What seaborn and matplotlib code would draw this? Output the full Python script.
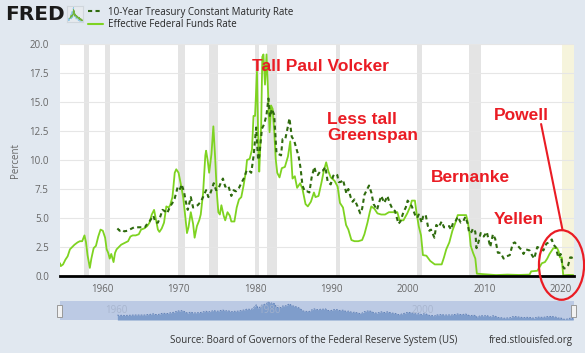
import matplotlib
matplotlib.use("Agg")
import matplotlib.pyplot as plt
from matplotlib.lines import Line2D
from matplotlib.patches import Ellipse, Rectangle
import seaborn as sns
import pandas as pd
import numpy as np

# Effective Federal Funds Rate (decimal year, percent)
ff_year = [1954.5, 1954.6, 1954.9, 1955.2, 1955.5, 1955.8, 1956.1, 1956.4, 1956.8, 1957.1,
           1957.4, 1957.7, 1957.9, 1958.1, 1958.4, 1958.6, 1958.9, 1959.2, 1959.5, 1959.8,
           1960.1, 1960.4, 1960.6, 1960.8, 1961.0, 1961.2, 1961.5, 1961.7, 1961.9, 1962.2,
           1962.5, 1962.8, 1963.1, 1963.4, 1963.7, 1964.0, 1964.4, 1964.8, 1965.1, 1965.5,
           1965.9, 1966.2, 1966.5, 1966.8, 1967.0, 1967.3, 1967.5, 1967.8, 1968.1, 1968.4,
           1968.7, 1968.9, 1969.2, 1969.5, 1969.7, 1970.0, 1970.3, 1970.6, 1970.9, 1971.1,
           1971.3, 1971.6, 1971.9, 1972.1, 1972.4, 1972.7, 1972.9, 1973.2, 1973.5, 1973.6,
           1973.8, 1974.0, 1974.3, 1974.55, 1974.8, 1975.0, 1975.2, 1975.4, 1975.6, 1975.9,
           1976.1, 1976.4, 1976.7, 1976.9, 1977.3, 1977.6, 1977.9, 1978.2, 1978.5, 1978.8,
           1978.95, 1979.3, 1979.6, 1979.8, 1980.0, 1980.25, 1980.45, 1980.55, 1980.8, 1980.95,
           1981.1, 1981.3, 1981.5, 1981.7, 1981.9, 1982.1, 1982.3, 1982.5, 1982.7, 1982.9,
           1983.2, 1983.5, 1983.9, 1984.3, 1984.6, 1984.9, 1985.2, 1985.5, 1985.9, 1986.2,
           1986.6, 1986.9, 1987.3, 1987.7, 1987.9, 1988.3, 1988.7, 1989.0, 1989.3, 1989.6,
           1989.9, 1990.4, 1990.8, 1991.1, 1991.5, 1991.9, 1992.2, 1992.6, 1993.0, 1993.5,
           1994.0, 1994.3, 1994.7, 1995.0, 1995.2, 1995.6, 1996.0, 1996.5, 1997.0, 1997.5,
           1998.0, 1998.6, 1998.9, 1999.4, 1999.9, 2000.3, 2000.5, 2000.9, 2001.1, 2001.4,
           2001.7, 2001.95, 2002.4, 2002.9, 2003.5, 2004.4, 2004.7, 2005.0, 2005.4, 2005.8,
           2006.2, 2006.5, 2007.0, 2007.6, 2007.8, 2008.0, 2008.2, 2008.5, 2008.8, 2009.0,
           2010.0, 2011.5, 2013.0, 2014.5, 2015.9, 2016.1, 2016.9, 2017.1, 2017.5, 2017.9,
           2018.2, 2018.5, 2018.8, 2019.0, 2019.5, 2019.7, 2019.85, 2020.1, 2020.2, 2020.3,
           2021.0, 2021.6]
ff_rate = [1.1, 0.85, 1.0, 1.4, 1.7, 2.3, 2.5, 2.7, 2.9, 3.0,
           3.0, 3.5, 2.9, 1.8, 0.7, 1.5, 2.4, 2.6, 3.4, 4.0,
           3.9, 3.3, 2.3, 2.0, 1.5, 1.9, 1.2, 2.0, 2.3, 2.5,
           2.7, 2.8, 2.9, 3.0, 3.4, 3.5, 3.5, 3.6, 4.0, 4.1,
           4.3, 4.6, 5.3, 5.7, 5.0, 4.0, 3.8, 4.1, 4.6, 6.0,
           5.9, 6.1, 6.8, 8.9, 9.2, 8.9, 7.9, 6.8, 5.0, 3.7,
           4.2, 5.5, 4.5, 3.3, 4.3, 4.8, 5.3, 7.1, 10.4, 10.8,
           10.0, 8.9, 10.5, 12.9, 10.0, 7.2, 5.5, 5.3, 6.1, 5.2,
           4.8, 5.5, 5.2, 4.7, 4.7, 5.9, 6.6, 6.8, 7.8, 9.0,
           10.0, 10.1, 10.9, 13.8, 13.8, 17.6, 10.5, 9.0, 13.0, 18.9,
           19.1, 16.5, 19.1, 15.9, 12.4, 14.7, 14.4, 12.6, 10.1, 8.9,
           8.5, 9.3, 9.4, 10.3, 11.6, 8.4, 8.6, 7.6, 8.0, 7.5,
           6.2, 6.0, 6.4, 7.2, 6.8, 6.9, 8.1, 9.1, 9.8, 9.0,
           8.5, 8.2, 7.7, 6.3, 5.9, 4.4, 4.0, 3.1, 3.0, 3.0,
           3.1, 3.6, 4.6, 5.5, 6.0, 5.8, 5.4, 5.3, 5.3, 5.5,
           5.5, 5.5, 4.8, 4.8, 5.4, 6.0, 6.5, 6.5, 5.5, 4.3,
           3.5, 1.8, 1.75, 1.3, 1.0, 1.0, 1.6, 2.3, 2.9, 3.9,
           4.6, 5.25, 5.25, 5.25, 4.7, 3.9, 2.6, 2.0, 1.5, 0.2,
           0.15, 0.08, 0.12, 0.09, 0.12, 0.4, 0.45, 0.66, 1.1, 1.2,
           1.5, 1.9, 2.2, 2.4, 2.4, 2.1, 1.6, 1.6, 0.7, 0.05,
           0.09, 0.08]

# 10-Year Treasury Constant Maturity Rate
t10_year = [1962.0, 1962.3, 1962.6, 1962.9, 1963.3, 1963.6, 1963.9, 1964.2, 1964.6, 1964.9,
            1965.3, 1965.6, 1965.9, 1966.2, 1966.7, 1967.0, 1967.3, 1967.6, 1967.9, 1968.2,
            1968.5, 1968.9, 1969.2, 1969.5, 1969.9, 1970.2, 1970.4, 1970.7, 1970.95, 1971.2,
            1971.6, 1971.9, 1972.2, 1972.5, 1972.9, 1973.2, 1973.6, 1973.9, 1974.2, 1974.6,
            1974.9, 1975.2, 1975.5, 1975.8, 1976.1, 1976.5, 1976.9, 1977.2, 1977.5, 1977.9,
            1978.2, 1978.6, 1978.9, 1979.2, 1979.5, 1979.8, 1980.15, 1980.4, 1980.55, 1980.9,
            1981.2, 1981.5, 1981.75, 1981.95, 1982.2, 1982.5, 1982.8, 1983.1, 1983.4, 1983.6,
            1983.95, 1984.3, 1984.5, 1984.8, 1985.1, 1985.4, 1985.7, 1985.95, 1986.2, 1986.5,
            1986.8, 1987.1, 1987.4, 1987.75, 1987.95, 1988.2, 1988.6, 1988.9, 1989.2, 1989.5,
            1989.9, 1990.2, 1990.4, 1990.75, 1990.95, 1991.2, 1991.5, 1991.95, 1992.2, 1992.5,
            1992.75, 1993.0, 1993.4, 1993.75, 1994.0, 1994.3, 1994.6, 1994.9, 1995.2, 1995.5,
            1995.95, 1996.2, 1996.5, 1996.9, 1997.3, 1997.6, 1997.95, 1998.3, 1998.75, 1999.0,
            1999.4, 1999.7, 1999.95, 2000.2, 2000.5, 2000.9, 2001.2, 2001.4, 2001.8, 2001.95,
            2002.3, 2002.6, 2002.8, 2003.0, 2003.45, 2003.7, 2004.0, 2004.4, 2004.7, 2004.95,
            2005.4, 2005.6, 2005.9, 2006.2, 2006.5, 2006.9, 2007.2, 2007.5, 2007.8, 2008.0,
            2008.3, 2008.5, 2008.8, 2008.95, 2009.2, 2009.5, 2009.9, 2010.3, 2010.75, 2011.1,
            2011.4, 2011.75, 2012.1, 2012.5, 2012.9, 2013.3, 2013.7, 2013.95, 2014.5, 2014.9,
            2015.1, 2015.4, 2015.9, 2016.2, 2016.5, 2016.9, 2017.2, 2017.7, 2018.1, 2018.5,
            2018.8, 2019.0, 2019.3, 2019.65, 2019.95, 2020.2, 2020.4, 2020.7, 2020.95, 2021.2,
            2021.4, 2021.6]
t10_rate = [4.1, 3.9, 4.0, 3.85, 3.9, 4.0, 4.1, 4.2, 4.2, 4.2,
            4.2, 4.2, 4.5, 4.7, 5.2, 4.6, 4.6, 5.1, 5.7, 5.6,
            5.4, 6.0, 6.3, 6.7, 7.7, 7.5, 7.9, 7.3, 6.4, 5.7,
            6.8, 5.9, 6.0, 6.1, 6.4, 6.8, 7.4, 6.8, 7.2, 8.0,
            7.4, 7.5, 8.0, 8.4, 7.7, 7.8, 6.9, 7.4, 7.3, 7.6,
            8.0, 8.5, 9.1, 9.1, 8.9, 10.3, 12.8, 10.0, 10.3, 12.7,
            13.1, 13.9, 15.3, 13.7, 14.4, 13.9, 10.6, 10.5, 10.4, 11.8,
            11.8, 12.9, 13.6, 12.0, 11.7, 11.0, 10.3, 9.3, 7.8, 7.3,
            7.3, 7.2, 8.5, 9.4, 8.9, 8.7, 9.1, 9.1, 9.4, 8.1,
            7.9, 8.6, 8.8, 8.7, 8.1, 8.1, 8.3, 7.1, 7.5, 6.8,
            6.4, 6.6, 6.0, 5.4, 5.8, 7.0, 7.4, 7.8, 7.2, 6.2,
            5.7, 6.3, 6.9, 6.3, 6.9, 6.3, 5.8, 5.6, 4.5, 4.7,
            5.5, 5.9, 6.5, 6.3, 6.0, 5.3, 5.0, 5.3, 4.6, 5.1,
            5.3, 4.3, 3.9, 4.0, 3.3, 4.4, 4.2, 4.7, 4.2, 4.2,
            4.3, 4.0, 4.6, 4.7, 5.1, 4.6, 4.7, 5.1, 4.5, 3.7,
            3.8, 4.1, 3.8, 2.4, 2.9, 3.7, 3.4, 3.8, 2.5, 3.6,
            3.2, 2.0, 2.0, 1.5, 1.7, 1.8, 2.8, 2.9, 2.5, 2.2,
            1.9, 2.3, 2.2, 1.8, 1.5, 2.5, 2.4, 2.2, 2.8, 2.9,
            3.15, 2.7, 2.5, 1.6, 1.9, 0.9, 0.65, 0.7, 0.95, 1.6,
            1.6, 1.3]

# NBER recessions (start, end)
rec_start = [1957.67, 1960.33, 1969.92, 1973.92, 1980.0, 1981.5, 1990.58, 2001.17, 2007.92]
rec_end = [1958.33, 1961.08, 1970.83, 1975.17, 1980.5, 1982.92, 1991.17, 2001.83, 2009.5]

legend_labels = ["10-Year Treasury Constant Maturity Rate", "Effective Federal Funds Rate"]
y_ticks = [0, 2.5, 5, 7.5, 10, 12.5, 15, 17.5, 20]
x_ticks = [1960, 1970, 1980, 1990, 2000, 2010, 2020]
nav_ticks = [1960, 1980, 2000]

ff = pd.DataFrame({"year": ff_year, "rate": ff_rate})
t10 = pd.DataFrame({"year": t10_year, "rate": t10_rate})

sns.set_style("white")
plt.rcParams["font.family"] = ["Open Sans", "DejaVu Sans"]

bg = "#e1e8f0"
light_green = "#7ed321"
dark_green = "#2f6b0e"
red = "#ea1c24"
dash = (0, (2.0, 1.6))
xmin, xmax = 1954.5, 2021.7

fig = plt.figure(figsize=(5.85, 3.53), dpi=100, facecolor=bg)
W, H = 585, 353

def fbox(x0, y0, x1, y1):
    return [x0 / W, 1 - y1 / H, (x1 - x0) / W, (y1 - y0) / H]

ax = fig.add_axes(fbox(60, 44, 574, 276))
ax.set_facecolor("white")

for s, e in zip(rec_start, rec_end):
    ax.axvspan(s, e, color="#e4e4e4", lw=0, zorder=0)
ax.axvspan(2020.15, xmax, color="#f6f4dc", lw=0, zorder=0)

for yv in y_ticks[1:]:
    ax.axhline(yv, color="#e6e6e6", lw=0.8, zorder=0.5)

sns.lineplot(data=ff, x="year", y="rate", ax=ax, color=light_green, lw=1.3, zorder=2)
sns.lineplot(data=t10, x="year", y="rate", ax=ax, color=dark_green, lw=1.5,
             linestyle=dash, zorder=3)

ax.set_xlim(xmin, xmax)
ax.set_ylim(0, 20)
ax.set_yticks(y_ticks)
ax.set_yticklabels([f"{v:.1f}" for v in y_ticks])
ax.set_xticks(x_ticks)
ax.set_xticklabels([str(v) for v in x_ticks])
ax.tick_params(axis="y", length=0, labelsize=7, labelcolor="#666666", pad=8)
ax.tick_params(axis="x", length=4, color="#ccd6eb", labelsize=7, labelcolor="#666666", pad=2)
ax.set_xlabel("")
ax.set_ylabel("Percent", fontsize=7, color="#666666", labelpad=6)
for side in ["top", "right", "left"]:
    ax.spines[side].set_visible(False)
ax.spines["bottom"].set_color("black")
ax.spines["bottom"].set_linewidth(2)
ax.spines["bottom"].set_zorder(5)

# annotations
tkw = dict(color=red, fontsize=12.5, fontweight="bold",
           family=["Liberation Sans", "DejaVu Sans"])
ax.text(1988.5, 18.1, "Tall Paul Volcker", ha="center", va="center", **tkw)
ax.text(1989.4, 12.8, "Less tall\nGreenspan", ha="left", va="center", linespacing=1.05, **tkw)
ax.text(2003.0, 8.5, "Bernanke", ha="left", va="center", **tkw)
ax.text(2011.2, 4.9, "Yellen", ha="left", va="center", **tkw)
ax.text(2011.2, 13.8, "Powell", ha="left", va="center", **tkw)
ax.plot([2017.4, 2020.2], [13.1, 3.97], color=red, lw=1.5, zorder=6)
ax.add_patch(Ellipse((2020.07, 0.95), 5.9, 6.0, fill=False, ec=red, lw=1.6,
                     clip_on=False, zorder=6))

# navigator
nav = fig.add_axes(fbox(60, 301, 574, 320))
nav.set_facecolor("#bccae4")
nav.fill_between(t10["year"], t10["rate"], color="#7f9dcb", lw=0, zorder=1)
nav.plot(t10["year"], t10["rate"], color="#5577b0", lw=0.6, linestyle=(0, (2, 1.5)), zorder=2)
nav.set_xlim(xmin, xmax)
nav.set_ylim(0, 16)
nav.set_xticks([])
nav.set_yticks([])
for sp in nav.spines.values():
    sp.set_visible(False)
for t in nav_ticks:
    nav.text(t + 0.4, 8, str(t), fontsize=7, color="#a6b3cc", va="center", ha="left",
             alpha=0.9, zorder=3)
for hx in (57, 571):
    fig.patches.append(Rectangle((hx / W, 1 - 317 / H), 5 / W, 12 / H, transform=fig.transFigure,
                                 fc="#f2f2f2", ec="#999999", lw=0.7))

# header
fig.text(5 / W, 1 - 15 / H, "FRED", fontsize=14.5, fontweight="heavy", color="#1a1a1a",
         va="center", ha="left", family=["DejaVu Sans"])
icon = fig.add_axes(fbox(67, 6, 83, 22))
icon.set_facecolor("#e6eaee")
icon.set_xticks([])
icon.set_yticks([])
for sp in icon.spines.values():
    sp.set_color("#d0d6dc")
icon.plot(ff["year"], ff["rate"], color="#8fc7e8", lw=0.6)
icon.plot(t10["year"], t10["rate"], color="#74b33c", lw=0.6)

handles = [Line2D([], [], color=dark_green, lw=1.5, linestyle=dash),
           Line2D([], [], color=light_green, lw=1.5)]
fig.legend(handles, legend_labels, loc="upper left", bbox_to_anchor=(84 / W, 1 - 3 / H),
           frameon=False, fontsize=7, handlelength=1.6, handletextpad=0.5,
           labelspacing=0.15, borderaxespad=0)

fig.text(170 / W, 1 - 340 / H, "Source: Board of Governors of the Federal Reserve System (US)",
         fontsize=7, color="#333333", va="center")
fig.text(489 / W, 1 - 340 / H, "fred.stlouisfed.org", fontsize=7, color="#333333", va="center")

fig.savefig("out.png", dpi=100, facecolor=bg)
